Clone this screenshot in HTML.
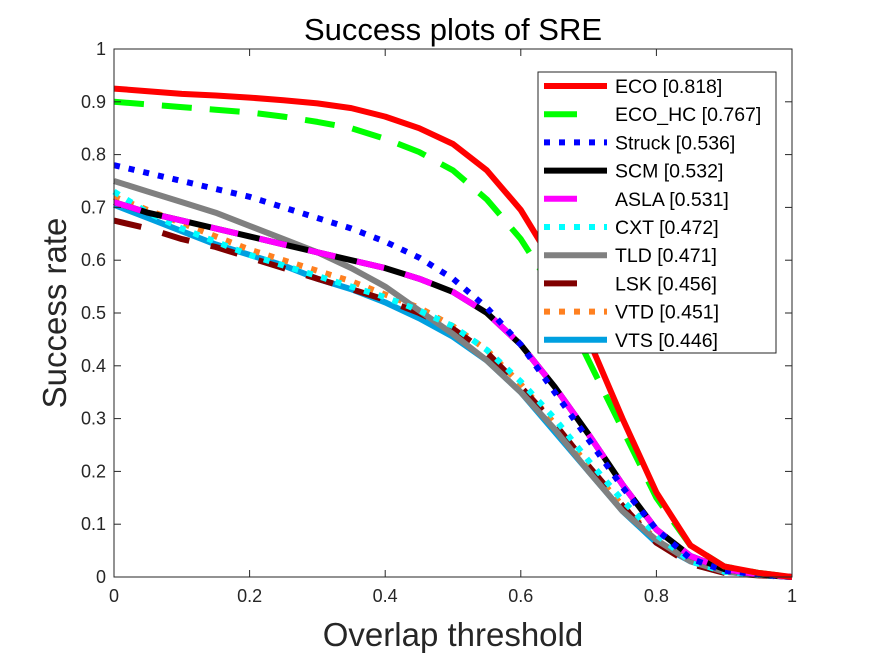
<!DOCTYPE html>
<html><head><meta charset="utf-8"><style>
html,body{margin:0;padding:0;background:#fff;}
svg{display:block;font-family:"Liberation Sans",Arial,sans-serif;}
</style></head><body>
<svg id="chart" width="875" height="656" viewBox="0 0 875 656">
<rect x="0" y="0" width="875" height="656" fill="#fff"/>
<g id="plot"></g>
<g id="axes"></g>
<text x="453" y="40" text-anchor="middle" font-size="31" fill="#000">Success plots of SRE</text>
<text x="453" y="646" text-anchor="middle" font-size="33" fill="#262626">Overlap threshold</text>
<text transform="translate(66,313) rotate(-90)" text-anchor="middle" font-size="33" fill="#262626">Success rate</text>
<g id="legend"></g>
</svg>
<script>
const thresholds = [0,0.05,0.1,0.15,0.2,0.25,0.3,0.35,0.4,0.45,0.5,0.55,0.6,0.65,0.7,0.75,0.8,0.85,0.9,0.95,1];
const seriesNames = ["ECO [0.818]","ECO_HC [0.767]","Struck [0.536]","SCM [0.532]","ASLA [0.531]","CXT [0.472]","TLD [0.471]","LSK [0.456]","VTD [0.451]","VTS [0.446]"];
const ecoValues = [0.925,0.92,0.915,0.912,0.908,0.903,0.897,0.888,0.872,0.85,0.82,0.77,0.695,0.59,0.45,0.3,0.16,0.06,0.02,0.008,0];
const ecoHcValues = [0.90,0.895,0.89,0.885,0.88,0.872,0.862,0.85,0.83,0.805,0.77,0.715,0.64,0.54,0.41,0.28,0.15,0.06,0.02,0.008,0];
const struckValues = [0.78,0.765,0.75,0.735,0.72,0.70,0.68,0.66,0.635,0.605,0.565,0.51,0.44,0.35,0.26,0.17,0.09,0.035,0.012,0.005,0];
const scmValues = [0.71,0.69,0.675,0.66,0.645,0.63,0.615,0.60,0.585,0.565,0.54,0.50,0.44,0.36,0.27,0.175,0.09,0.04,0.015,0.005,0];
const aslaValues = [0.71,0.69,0.675,0.66,0.645,0.63,0.615,0.60,0.585,0.565,0.54,0.50,0.44,0.36,0.27,0.175,0.09,0.04,0.015,0.005,0];
const cxtValues = [0.73,0.69,0.66,0.635,0.61,0.59,0.57,0.55,0.53,0.505,0.475,0.43,0.37,0.30,0.22,0.145,0.08,0.03,0.01,0.004,0];
const tldValues = [0.75,0.73,0.71,0.69,0.665,0.64,0.615,0.585,0.55,0.505,0.46,0.41,0.35,0.28,0.20,0.125,0.07,0.03,0.01,0.004,0];
const lskValues = [0.675,0.66,0.64,0.625,0.605,0.585,0.565,0.545,0.525,0.50,0.47,0.425,0.36,0.29,0.21,0.135,0.065,0.025,0.008,0.003,0];
const vtdValues = [0.72,0.695,0.67,0.645,0.62,0.60,0.58,0.56,0.535,0.51,0.475,0.43,0.365,0.29,0.21,0.135,0.07,0.03,0.01,0.004,0];
const vtsValues = [0.705,0.68,0.655,0.63,0.61,0.59,0.565,0.545,0.52,0.49,0.455,0.41,0.35,0.275,0.20,0.125,0.065,0.03,0.01,0.004,0];
const xTickLabels = ["0","0.2","0.4","0.6","0.8","1"];
const yTickLabels = ["0","0.1","0.2","0.3","0.4","0.5","0.6","0.7","0.8","0.9","1"];

const X0=114,X1=792,Y0=577,Y1=49;
const xs=v=>X0+(X1-X0)*v;
const ys=v=>Y0-(Y0-Y1)*v;
const NS="http://www.w3.org/2000/svg";
function mk(tag,attrs,parent){const e=document.createElementNS(NS,tag);for(const k in attrs)e.setAttribute(k,attrs[k]);parent.appendChild(e);return e;}

const styles=[
 {c:"#ff0000",d:"",key:"eco"},
 {c:"#00ff00",d:"30 18",key:"eco-hc"},
 {c:"#0000ff",d:"6 9",key:"struck"},
 {c:"#000000",d:"",key:"scm"},
 {c:"#ff00ff",d:"28 22",key:"asla"},
 {c:"#00ffff",d:"6 9",key:"cxt"},
 {c:"#808080",d:"",key:"tld"},
 {c:"#800000",d:"28 22",key:"lsk"},
 {c:"#ff8020",d:"6 9",key:"vtd"},
 {c:"#00a0e0",d:"",key:"vts"}
];
const allValues=[ecoValues,ecoHcValues,struckValues,scmValues,aslaValues,cxtValues,tldValues,lskValues,vtdValues,vtsValues];

const plot=document.getElementById('plot');
const order=[9,8,7,6,5,3,4,2,1,0];
order.forEach(i=>{
  const vals=allValues[i];
  const pts=thresholds.map((t,j)=>xs(t).toFixed(1)+","+ys(vals[j]).toFixed(1)).join(" ");
  const a={points:pts,fill:"none",stroke:styles[i].c,"stroke-width":6,"stroke-linejoin":"round"};
  if(styles[i].d)a["stroke-dasharray"]=styles[i].d;
  const p=mk('polyline',a,plot);
  
  
});

const axes=document.getElementById('axes');
const box=mk('rect',{x:X0,y:Y1,width:X1-X0,height:Y0-Y1,fill:"none",stroke:"#262626","stroke-width":1},axes);


xTickLabels.forEach(l=>{
  const v=parseFloat(l),x=xs(v);
  mk('line',{x1:x,y1:Y0,x2:x,y2:Y0-7,stroke:"#262626"},axes);
  mk('line',{x1:x,y1:Y1,x2:x,y2:Y1+7,stroke:"#262626"},axes);
  const t=mk('text',{x:x,y:Y0+25,"text-anchor":"middle","font-size":18,fill:"#262626"},axes);
  t.textContent=l;
  
  
});
yTickLabels.forEach(l=>{
  const v=parseFloat(l),y=ys(v);
  mk('line',{x1:X0,y1:y,x2:X0+7,y2:y,stroke:"#262626"},axes);
  mk('line',{x1:X1,y1:y,x2:X1-7,y2:y,stroke:"#262626"},axes);
  const t=mk('text',{x:X0-8,y:y+6,"text-anchor":"end","font-size":18,fill:"#262626"},axes);
  t.textContent=l;
  
  
});

const lg=document.getElementById('legend');
const lr=mk('rect',{x:538,y:72,width:238,height:281,fill:"#fff",stroke:"#262626","stroke-width":1},lg);


seriesNames.forEach((n,i)=>{
  const y=86+i*28.2;
  const a={x1:544,y1:y,x2:607,y2:y,stroke:styles[i].c,"stroke-width":6};
  if(styles[i].d==="6 9")a["stroke-dasharray"]="6 9";
  else if(styles[i].d){a.x2=577;}
  const ln=mk('line',a,lg);
  
  
  const t=mk('text',{x:615,y:y+7,"font-size":19.5,fill:"#000"},lg);
  t.textContent=n;
  
  
});
</script>
</body></html>
